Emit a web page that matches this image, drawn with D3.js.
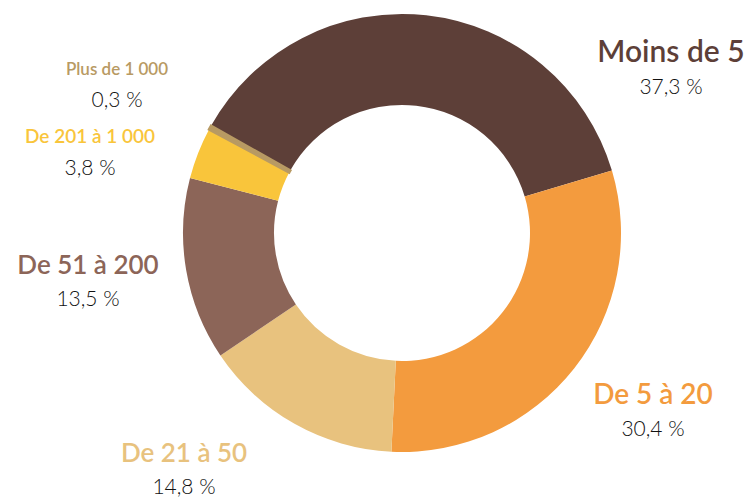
<!DOCTYPE html>
<html>
<head>
<meta charset="utf-8">
<script src="https://cdn.jsdelivr.net/npm/d3@7"></script>
<style>
  body { margin: 0; background: #fff; }
  text { font-family: Lato, "Open Sans", sans-serif; }
</style>
</head>
<body>
<div id="chart"></div>
<script>
var width = 753;
var height = 498;

// data
var categories = ["Moins de 5", "De 5 à 20", "De 21 à 50", "De 51 à 200", "De 201 à 1 000", "Plus de 1 000"];
var shares = [37.3, 30.4, 14.8, 13.5, 3.8, 0.3];
var shareLabels = ["37,3 %", "30,4 %", "14,8 %", "13,5 %", "3,8 %", "0,3 %"];
var colors = ["#5d3f38", "#f39b3e", "#e8c27e", "#8c6558", "#f9c53b", "#b89a63"];

// label placement (centre x, title baseline, title size)
var labelPos = [
  [671, 62, 30],
  [653, 404, 28],
  [184, 462, 26],
  [88, 274, 26],
  [90, 143, 19],
  [117, 75, 17]
];

var cx = 402, cy = 233;
var outerR = 219, innerR = 128;
var start = -60.7 * Math.PI / 180;

var svg = d3.select("#chart")
  .append("svg")
  .attr("width", width)
  .attr("height", height);

var pie = d3.pie()
  .sort(null)
  .value(function(d) { return d; })
  .startAngle(start)
  .endAngle(start + 2 * Math.PI);

var arc = d3.arc()
  .innerRadius(innerR)
  .outerRadius(outerR);

var g = svg.append("g")
  .attr("transform", "translate(" + cx + "," + cy + ")");

g.selectAll("path")
  .data(pie(shares))
  .enter().append("path")
  .attr("d", arc)
  .attr("fill", function(d, i) { return colors[i]; })
  // small slices get an outline of their own colour so they stay visible
  .attr("stroke", function(d, i) { return colors[i]; })
  .attr("stroke-width", function(d) { return d.data < 1 ? 2.5 : 0; });

// labels
var labels = svg.selectAll(".label")
  .data(categories)
  .enter().append("g")
  .attr("class", "label");

labels.append("text")
  .attr("x", function(d, i) { return labelPos[i][0]; })
  .attr("y", function(d, i) { return labelPos[i][1]; })
  .attr("text-anchor", "middle")
  .attr("font-weight", 600)
  .style("font-size", function(d, i) { return labelPos[i][2] + "px"; })
  .attr("fill", function(d, i) { return colors[i]; })
  .text(function(d) { return d; });

labels.append("text")
  .attr("x", function(d, i) { return labelPos[i][0]; })
  .attr("y", function(d, i) { return labelPos[i][1] + 32; })
  .attr("text-anchor", "middle")
  .attr("font-weight", 300)
  .style("font-size", "21px")
  .attr("fill", "#111")
  .text(function(d, i) { return shareLabels[i]; });
</script>
</body>
</html>
